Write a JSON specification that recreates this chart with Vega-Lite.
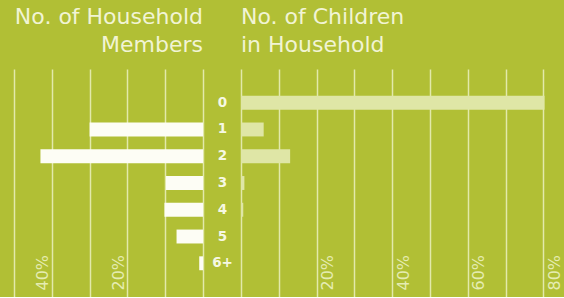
{
  "$schema": "https://vega.github.io/schema/vega-lite/v6.json",
  "background": "#b1bf35",
  "padding": {"top": 6, "left": 0, "right": 0, "bottom": 0},
  "bounds": "flush",
  "spacing": 38,
  "config": {
    "view": {"stroke": null},
    "font": "DejaVu Sans",
    "title": {"font": "DejaVu Sans", "fontSize": 22, "fontWeight": "normal", "color": "#f1f4d4", "lineHeight": 28, "offset": 12, "frame": "group"}
  },
  "datasets": {
    "members": [
      {"cat": "0", "pct": 0},
      {"cat": "1", "pct": 30},
      {"cat": "2", "pct": 43},
      {"cat": "3", "pct": 9.8},
      {"cat": "4", "pct": 10.2},
      {"cat": "5", "pct": 7},
      {"cat": "6+", "pct": 1}
    ],
    "children": [
      {"cat": "0", "pct": 80.3},
      {"cat": "1", "pct": 6},
      {"cat": "2", "pct": 13},
      {"cat": "3", "pct": 0.9},
      {"cat": "4", "pct": 0.6},
      {"cat": "5", "pct": 0},
      {"cat": "6+", "pct": 0}
    ]
  },
  "hconcat": [
    {
      "data": {"name": "members"},
      "width": 203,
      "height": 228,
      "title": {"text": ["No. of Household", "Members"], "anchor": "end", "align": "right"},
      "mark": {"type": "bar", "color": "#fdfdf5"},
      "encoding": {
        "y": {
          "field": "cat", "type": "nominal",
          "scale": {"domain": ["0", "1", "2", "3", "4", "5", "6+"], "paddingInner": 0.48, "paddingOuter": 1.16},
          "axis": null
        },
        "x": {
          "field": "pct", "type": "quantitative",
          "scale": {"domain": [0, 53.7], "reverse": true, "nice": false, "zero": true},
          "axis": {
            "values": [0, 10, 20, 30, 40, 50],
            "grid": true, "gridColor": "#e2e9ab", "gridWidth": 1.5,
            "domain": false, "ticks": false, "title": null,
            "labelExpr": "datum.value % 20 === 0 && datum.value > 0 ? datum.value + '%' : ''",
            "labelAngle": 270, "labelAlign": "left", "labelBaseline": "middle",
            "labelPadding": -7, "labelOffset": -9,
            "labelFont": "DejaVu Sans", "labelFontSize": 16, "labelColor": "#e5ecb2"
          }
        }
      }
    },
    {
      "data": {"name": "children"},
      "width": 323,
      "height": 228,
      "title": {"text": ["No. of Children", "in Household"], "anchor": "start", "align": "left"},
      "mark": {"type": "bar", "color": "#dfe6a6"},
      "encoding": {
        "y": {
          "field": "cat", "type": "nominal",
          "scale": {"domain": ["0", "1", "2", "3", "4", "5", "6+"], "paddingInner": 0.48, "paddingOuter": 1.16},
          "axis": {
            "orient": "left", "domain": false, "ticks": false, "grid": false, "title": null,
            "labelAlign": "center", "labelPadding": 19,
            "labelFont": "DejaVu Sans", "labelFontSize": 13.5, "labelFontWeight": "bold", "labelColor": "#f6f8e4"
          }
        },
        "x": {
          "field": "pct", "type": "quantitative",
          "scale": {"domain": [0, 85.45], "nice": false, "zero": true},
          "axis": {
            "values": [0, 10, 20, 30, 40, 50, 60, 70, 80],
            "grid": true, "gridColor": "#e2e9ab", "gridWidth": 1.5,
            "domain": false, "ticks": false, "title": null,
            "labelExpr": "datum.value % 20 === 0 && datum.value > 0 ? datum.value + '%' : ''",
            "labelAngle": 270, "labelAlign": "left", "labelBaseline": "middle",
            "labelPadding": -7, "labelOffset": 11,
            "labelFont": "DejaVu Sans", "labelFontSize": 16, "labelColor": "#e5ecb2"
          }
        }
      }
    }
  ]
}
